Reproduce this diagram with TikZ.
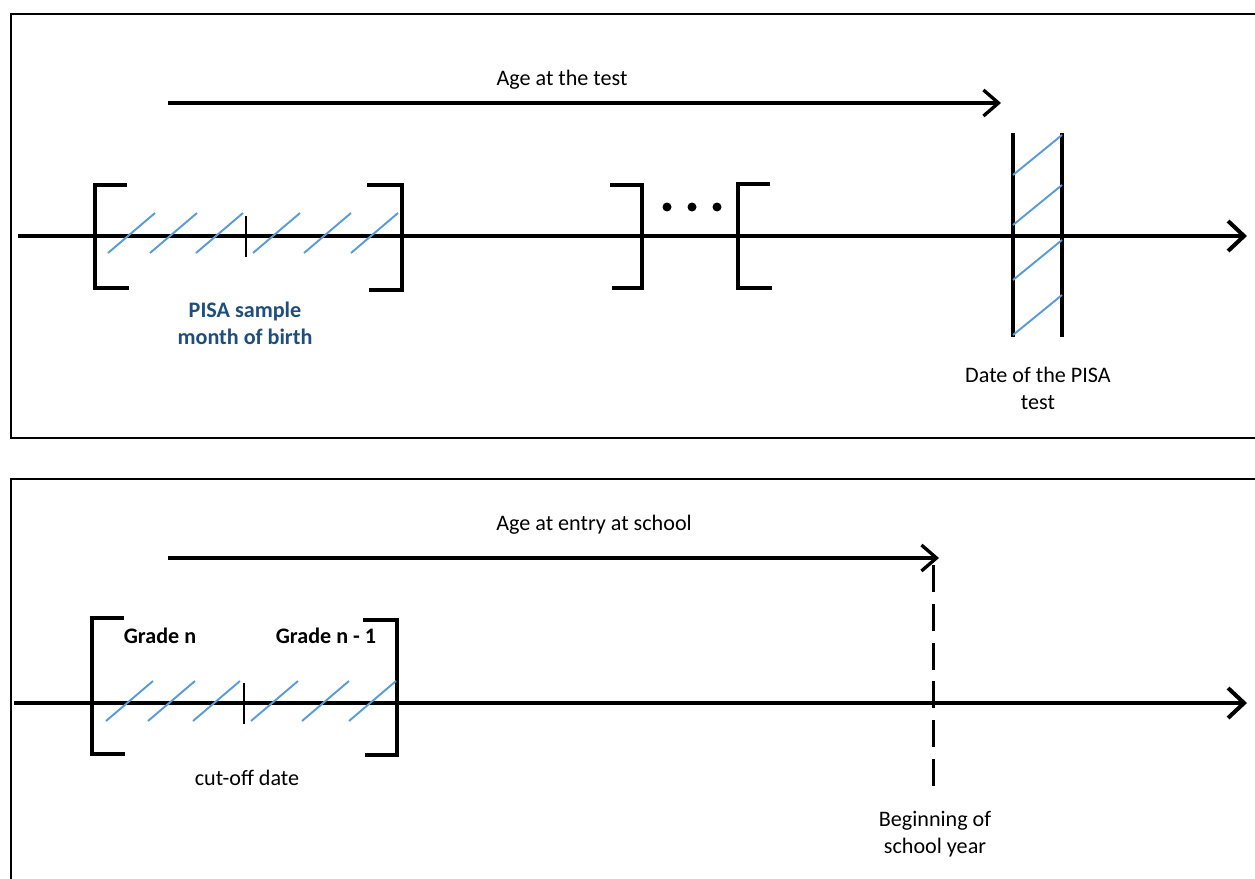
\documentclass[tikz,border=0pt]{standalone}
\usepackage{fontspec}
\setmainfont{Carlito}
\usetikzlibrary{arrows.meta, positioning}
\definecolor{hatchblue}{RGB}{91,155,213}
\definecolor{pisablue}{RGB}{31,78,121}

\begin{document}
\begin{tikzpicture}[x=0.02cm,y=-0.02cm,
    frame/.style={line width=1.4pt},
    axis/.style={line width=2.3pt, -{Straight Barb[length=3.2mm,width=6mm]}},
    agearrow/.style={line width=1.9pt, -{Straight Barb[length=3mm,width=5.2mm]}},
    brk/.style={line width=2.2pt},
    tick/.style={line width=1.6pt},
    hatch/.style={hatchblue, line width=1.1pt},
    lbl/.style={font=\fontsize{12.6}{15.4}\selectfont, align=center, inner sep=0pt},
    grade/.style={lbl, font=\fontsize{12.6}{15.4}\selectfont\bfseries}]
    \useasboundingbox (0,0) rectangle (1255,879);

    % top panel: month of birth and date of the test
    \draw[frame] (11,14) rectangle (1290,438);
    \coordinate (ts) at (18,236);
    \coordinate (te) at (1247,236);
    \draw[axis] (ts) -- (te);

    \draw[brk] (127,185) -| (95,288) -- (129,288);
    \draw[brk] (367,185) -| (402,290) -- (369,290);
    \draw[tick] (246,216) -- (246,257);
    \foreach \x in {108,150,196,253,304,351}
        \draw[hatch] (\x,253) -- ++(47,-40);
    \node[grade, text=pisablue] (sample) at (245,323) {PISA sample\\month of birth};

    \draw[brk] (610,185) -| (642,288) -- (612,288);
    \foreach \x in {667,692,717}
        \fill (\x,207) circle (4.5);
    \draw[brk] (770,184) -| (738,288) -- (772,288);

    \draw[brk] (1013,133) -- (1013,337);
    \draw[brk] (1062,133) -- (1062,337);
    \foreach \y in {175,225,280,335}
        \draw[hatch] (1013,\y) -- (1062,\y-40);
    \node[lbl] (testdate) at (1038,388) {Date of the PISA\\test};

    \coordinate (a0) at (168,103);
    \coordinate (a1) at (1001,103);
    \draw[agearrow] (a0) -- (a1);
    \node[lbl] (agetest) at (562,80) {Age at the test};

    % bottom panel: cut-off date and start of school year
    \draw[frame] (11,479) rectangle (1290,900);
    \coordinate (bs) at (14,703);
    \coordinate (be) at (1247,703);
    \draw[axis] (bs) -- (be);

    \draw[brk] (124,618) -| (92,754) -- (125,754);
    \draw[brk] (363,620) -| (397,755) -- (365,755);
    \draw[tick] (244,683) -- (244,724);
    \foreach \x in {106,148,193,251,302,349}
        \draw[hatch] (\x,721) -- ++(47,-40);
    \node[grade] (gn) at (160,636) {Grade n};
    \node[grade] (gn1) at (326,636) {Grade n - 1};
    \node[lbl] (cutoff) at (247,778) {cut-off date};

    \coordinate (b0) at (168,558);
    \coordinate (b1) at (939,558);
    \draw[agearrow] (b0) -- (b1);
    \node[lbl] (ageentry) at (594,525) {Age at entry at school};

    \coordinate (d0) at (933,565);
    \coordinate (d1) at (933,797);
    \draw[line width=1.7pt, dash pattern=on 15.3pt off 6.8pt] (d0) -- (d1);
    \node[lbl] (schoolyear) at (935,834) {Beginning of\\school year};
\end{tikzpicture}
\end{document}
